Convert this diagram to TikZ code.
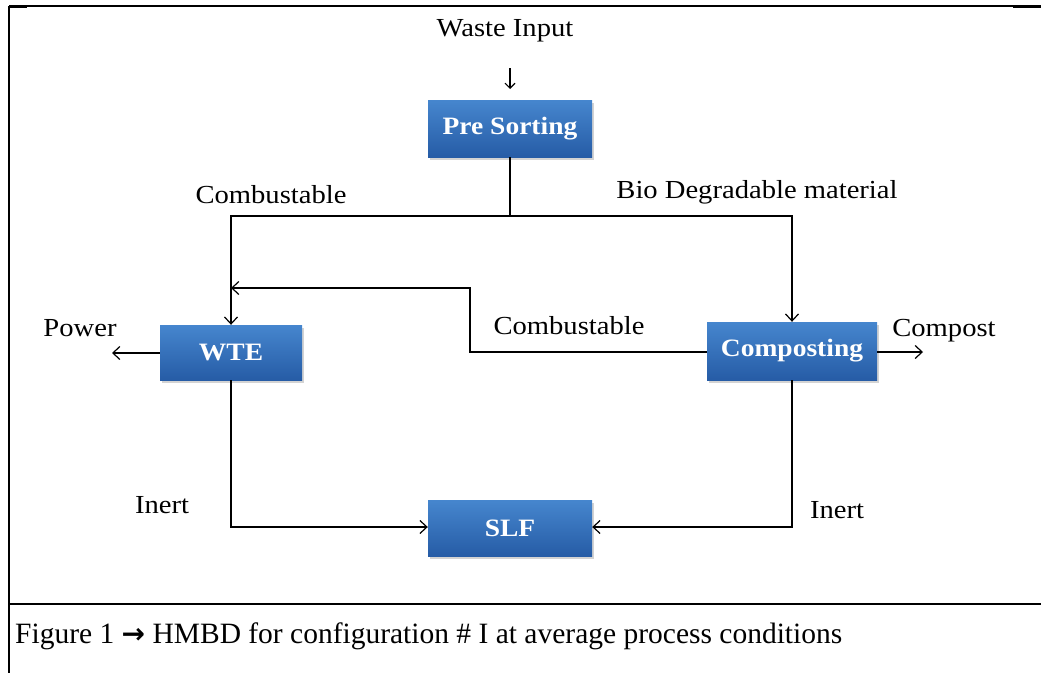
\documentclass[tikz,border=0pt]{standalone}
\usepackage{fontspec}
\setmainfont{Liberation Serif}
\newfontfamily\diagfont[FakeStretch=1.1]{Liberation Serif}
\newfontfamily\arrowfont{DejaVu Sans}
\usetikzlibrary{arrows.meta,shadows}
\definecolor{boxtop}{RGB}{70,134,206}
\definecolor{boxbot}{RGB}{38,92,166}
\tikzset{
  procbox/.style={draw=none, top color=boxtop, bottom color=boxbot, text=white,
    font=\diagfont\fontsize{25}{27}\selectfont\bfseries, inner sep=0pt, anchor=center,
    drop shadow={shadow xshift=2pt, shadow yshift=-3pt, opacity=0.35, fill=gray}},
  lbl/.style={font=\diagfont\fontsize{26}{28}\selectfont, inner sep=0pt},
  conn/.style={line width=1.2pt, -{Straight Barb[length=7pt,width=13pt]}},
  plain/.style={line width=1.2pt},
  frame/.style={line width=1.5pt}
}
\begin{document}
\begin{tikzpicture}[x=1pt,y=-1pt]
\useasboundingbox (0,0) rectangle (1041,673);
% frame
\draw[frame] (9,6) -- (1041,6);
\draw[line width=3pt] (9,6) -- (27,6);
\draw[line width=3pt] (1013,6) -- (1041,6);
\draw[frame] (9,6) -- (9,673);
\draw[line width=2.5pt] (9,604) -- (1041,604);
\node[anchor=west, inner sep=0pt, font=\fontsize{29.5}{31}\selectfont] (cap) at (15,636) {Figure 1 {\arrowfont\bfseries\fontsize{28}{30}\selectfont →} HMBD for configuration \# I at average process conditions};
% nodes
\node[procbox, minimum width=164pt, minimum height=57pt] (pre) at (510,128.5) {Pre Sorting};
\node[procbox, minimum width=142pt, minimum height=55pt] (wte) at (231,352.5) {WTE};
\node[procbox, minimum width=170pt, minimum height=58pt] (comp) at (792,351) {Composting};
\node[procbox, minimum width=164pt, minimum height=56pt] (slf) at (510,528) {SLF};
% labels
\node[lbl] (waste) at (505,31) {Waste Input};
\node[lbl] (comb1) at (271,195) {Combustable};
\node[lbl] (bio) at (757,192) {Bio Degradable material};
\node[lbl] (comb2) at (569,326) {Combustable};
\node[lbl] (power) at (80,328) {Power};
\node[lbl] (compost) at (944,331) {Compost};
\node[lbl] (inert1) at (162,505) {Inert};
\node[lbl] (inert2) at (837,510) {Inert};
% coordinates
\coordinate (wa) at (510,68);
\coordinate (wb) at (510,89);
\coordinate (split) at (510,216);
\coordinate (pout) at (112,353);
\coordinate (cout) at (923,352);
% connectors
\draw[line width=1.1pt, -{Straight Barb[length=5pt,width=10pt]}] (wa) -- (wb);
\draw[plain] (pre.south) -- (split);
\draw[conn] (split) -| (wte.north);
\draw[conn] (split) -| (comp.north);
\draw[conn] (comp.west |- 0,352) -- (470,352) |- (231,288);
\draw[conn] (wte.west |- 0,353) -- (pout);
\draw[conn] (comp.east |- 0,352) -- (cout);
\draw[conn] (wte.south) |- (slf.west |- 0,527);
\draw[conn] (comp.south) |- (slf.east |- 0,527);
\end{tikzpicture}
\end{document}
